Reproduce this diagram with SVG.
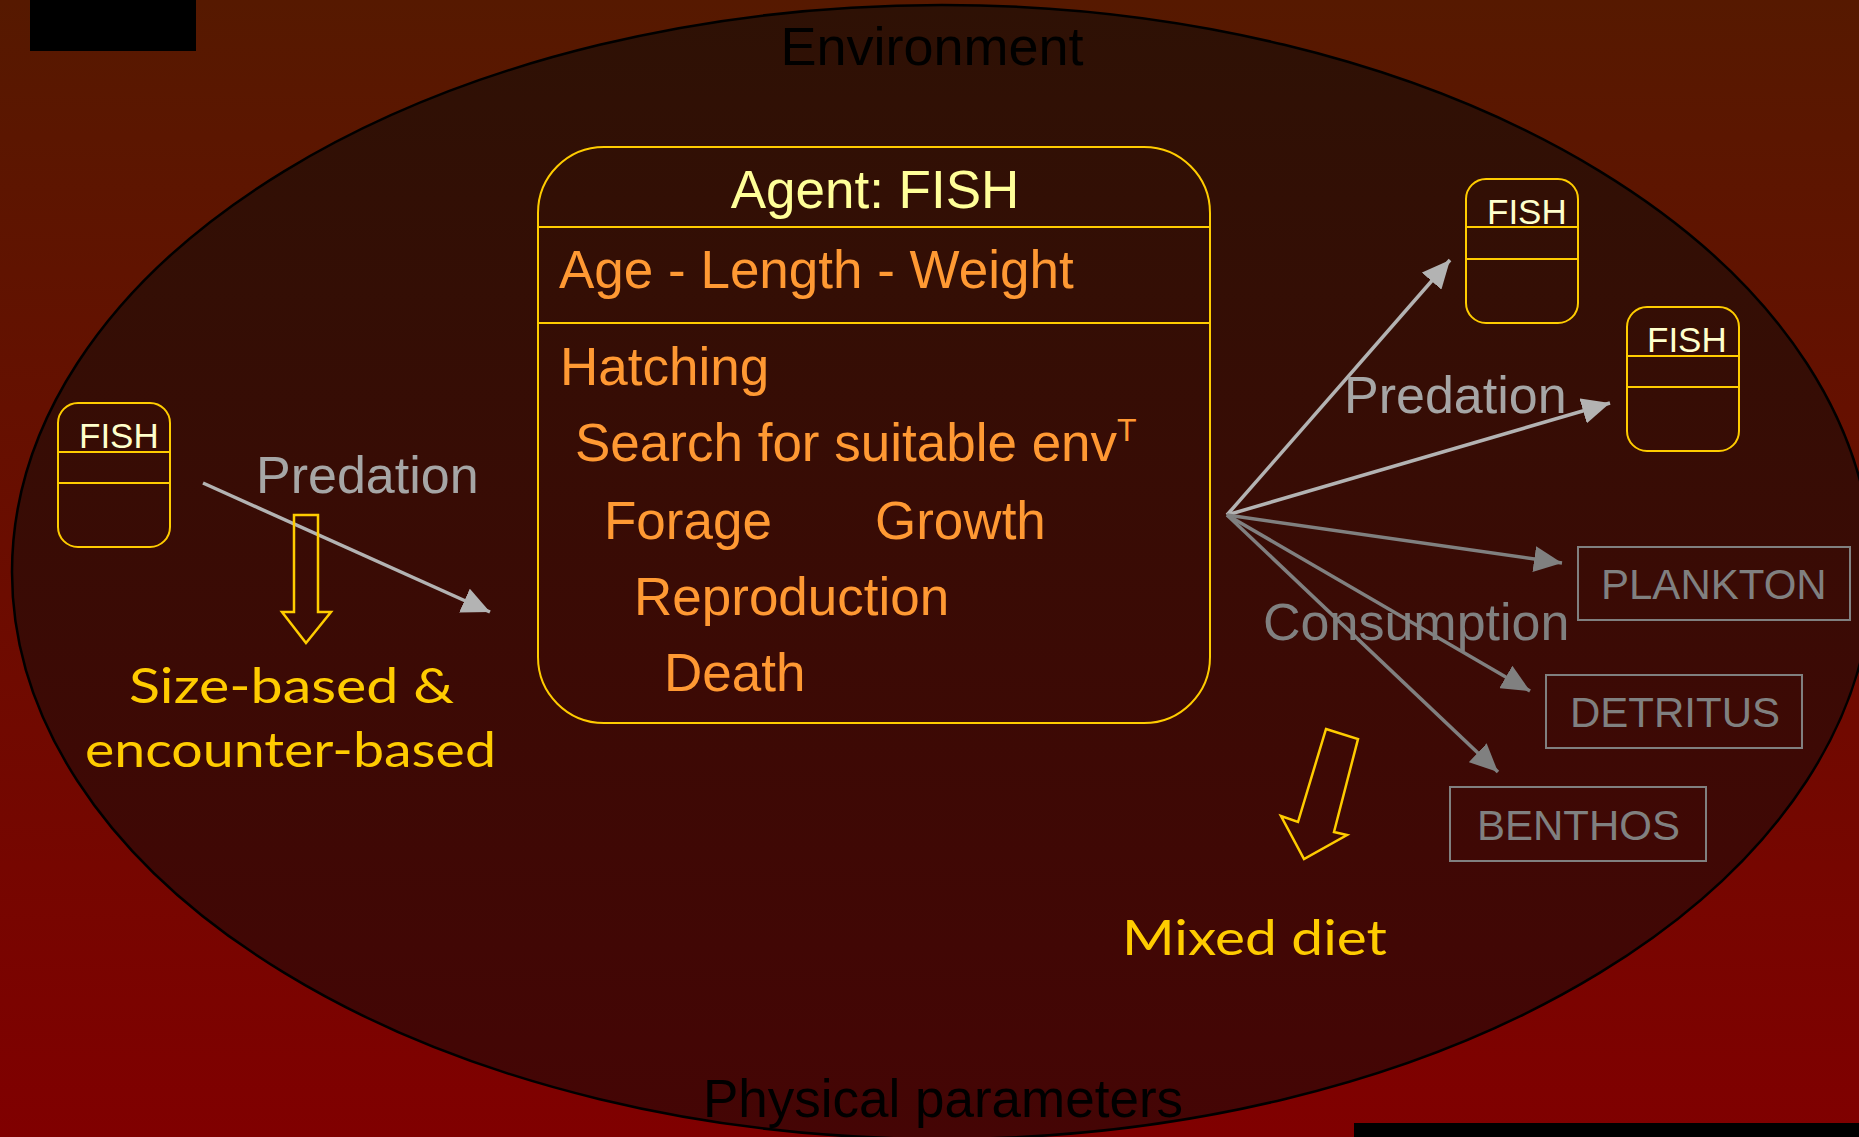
<svg xmlns="http://www.w3.org/2000/svg" width="1859" height="1137" viewBox="0 0 1859 1137">
<defs>
<linearGradient id="bg" x1="0" y1="0" x2="0" y2="1">
<stop offset="0" stop-color="#561900"/>
<stop offset="1" stop-color="#800000"/>
</linearGradient>
<linearGradient id="env" x1="0" y1="0" x2="0" y2="1">
<stop offset="0" stop-color="#2e1105"/>
<stop offset="1" stop-color="#450505"/>
</linearGradient>
<marker id="ahL" markerUnits="userSpaceOnUse" markerWidth="30" markerHeight="26" refX="28" refY="13" orient="auto">
<path d="M0,0 L28,13 L0,26 Z" fill="#b3b3b3"/>
</marker>
<marker id="ahD" markerUnits="userSpaceOnUse" markerWidth="30" markerHeight="26" refX="28" refY="13" orient="auto">
<path d="M0,0 L28,13 L0,26 Z" fill="#808080"/>
</marker>
</defs>
<style>
.sans{font-family:"Liberation Sans",Arial,sans-serif}
.comic{font-family:"Lato","DejaVu Sans",sans-serif;fill:#ffcc00;font-size:48px}
.ybox{fill:none;stroke:#ffcc00;stroke-width:2}
.gbox{fill:none;stroke:#808080;stroke-width:2}
.fishlbl{font-family:"Liberation Sans",Arial,sans-serif;font-size:35px;fill:#ffffcc}
.item{font-family:"Liberation Sans",Arial,sans-serif;font-size:53px;fill:#ff9933}
.pred{stroke:#b3b3b3;stroke-width:3.5;fill:none;marker-end:url(#ahL)}
.cons{stroke:#808080;stroke-width:3.5;fill:none;marker-end:url(#ahD)}
.glbl{font-family:"Liberation Sans",Arial,sans-serif;font-size:42px;fill:#808080}
.hollow{fill:none;stroke:#ffcc00;stroke-width:2.5;stroke-linejoin:miter}
</style>
<rect x="0" y="0" width="1859" height="1137" fill="url(#bg)"/>
<rect x="30" y="0" width="166" height="51" fill="#000"/>
<rect x="1354" y="1123" width="505" height="14" fill="#000"/>

<g id="environment">
<ellipse cx="942" cy="572" rx="930" ry="567" fill="url(#env)" stroke="#000" stroke-width="2.5"/>
<text class="sans" x="932" y="65" font-size="54" text-anchor="middle" fill="#000">Environment</text>
<text class="sans" x="943" y="1117" font-size="53" text-anchor="middle" fill="#000">Physical parameters</text>
</g>

<g id="agent-fish">
<rect class="ybox" x="538" y="147" width="672" height="576" rx="66" ry="66"/>
<line class="ybox" x1="538" y1="227" x2="1210" y2="227"/>
<line class="ybox" x1="538" y1="323" x2="1210" y2="323"/>
<text class="sans" x="875" y="208" font-size="53" text-anchor="middle" fill="#ffff99">Agent: FISH</text>
<text class="item" x="559" y="288">Age - Length - Weight</text>
<text class="item" x="560" y="385">Hatching</text>
<text class="item" x="575" y="461">Search for suitable env<tspan font-size="32" dy="-20">T</tspan></text>
<text class="item" x="604" y="539">Forage</text>
<text class="item" x="875" y="539">Growth</text>
<text class="item" x="634" y="615">Reproduction</text>
<text class="item" x="664" y="691">Death</text>
</g>

<g id="fish-left">
<rect class="ybox" x="58" y="403" width="112" height="144" rx="20" ry="20"/>
<line class="ybox" x1="58" y1="452" x2="170" y2="452"/>
<line class="ybox" x1="58" y1="483" x2="170" y2="483"/>
<text class="fishlbl" x="79" y="448">FISH</text>
</g>

<g id="fish-right-1">
<rect class="ybox" x="1466" y="179" width="112" height="144" rx="20" ry="20"/>
<line class="ybox" x1="1466" y1="227" x2="1578" y2="227"/>
<line class="ybox" x1="1466" y1="259" x2="1578" y2="259"/>
<text class="fishlbl" x="1487" y="224">FISH</text>
</g>

<g id="fish-right-2">
<rect class="ybox" x="1627" y="307" width="112" height="144" rx="20" ry="20"/>
<line class="ybox" x1="1627" y1="356" x2="1739" y2="356"/>
<line class="ybox" x1="1627" y1="387" x2="1739" y2="387"/>
<text class="fishlbl" x="1647" y="352">FISH</text>
</g>

<g id="plankton">
<rect class="gbox" x="1578" y="547" width="272" height="73"/>
<text class="glbl" x="1601" y="599">PLANKTON</text>
</g>

<g id="detritus">
<rect class="gbox" x="1546" y="675" width="256" height="73"/>
<text class="glbl" x="1570" y="727">DETRITUS</text>
</g>

<g id="benthos">
<rect class="gbox" x="1450" y="787" width="256" height="74"/>
<text class="glbl" x="1477" y="840">BENTHOS</text>
</g>

<g id="connectors">
<line class="pred" x1="203" y1="483" x2="490" y2="612"/>
<line class="pred" x1="1227" y1="515" x2="1450" y2="260"/>
<line class="pred" x1="1227" y1="515" x2="1610" y2="403"/>
<line class="cons" x1="1227" y1="515" x2="1562" y2="563"/>
<line class="cons" x1="1227" y1="515" x2="1530" y2="691"/>
<line class="cons" x1="1227" y1="515" x2="1498" y2="772"/>
</g>

<g id="labels">
<text class="sans" x="256" y="493" font-size="52" fill="#a6a6a6">Predation</text>
<text class="sans" x="1344" y="413" font-size="52" fill="#a6a6a6">Predation</text>
<text class="sans" x="1263" y="640" font-size="52" fill="#808080">Consumption</text>
</g>

<g id="size-arrow">
<path class="hollow" d="M294,515 L318,515 L318,612 L331,612 L306,643 L282,612 L294,612 Z"/>
<text class="comic" x="129" y="703" textLength="325" lengthAdjust="spacingAndGlyphs">Size-based &amp;</text>
<text class="comic" x="85" y="767" textLength="411" lengthAdjust="spacingAndGlyphs">encounter-based</text>
</g>

<g id="diet-arrow">
<path class="hollow" stroke-width="3.5" d="M1326,729 L1358,739 L1334,832 L1347,835 L1304,859 L1281,816 L1298,822 Z"/>
<text class="comic" x="1122" y="955" textLength="265" lengthAdjust="spacingAndGlyphs">Mixed diet</text>
</g>
</svg>
